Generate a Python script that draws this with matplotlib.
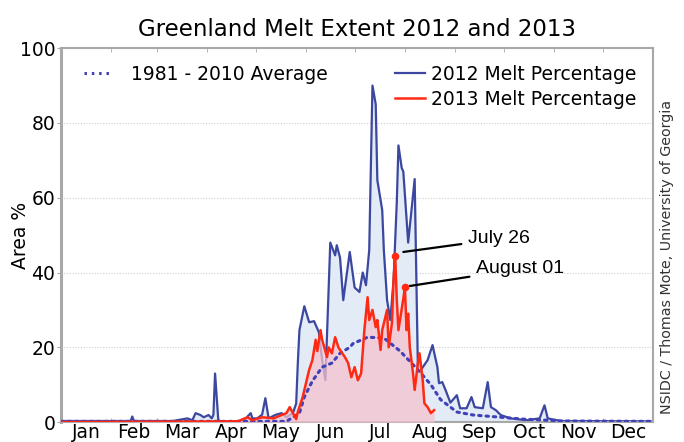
import numpy as np
import matplotlib.pyplot as plt
from matplotlib.lines import Line2D

# Month tick positions (day of year) and labels
month_starts = [1, 32, 60, 91, 121, 152, 182, 213, 244, 274, 305, 335, 366]
month_labels = ["Jan", "Feb", "Mar", "Apr", "May", "Jun",
                "Jul", "Aug", "Sep", "Oct", "Nov", "Dec"]

# 2012 melt percentage (day of year, % area)
days_2012 = [1, 20, 44, 45, 46, 70, 79, 82, 84, 87, 89, 92, 94, 95, 96, 98, 100,
             114, 116, 118, 119, 122, 125, 127, 129, 133, 137, 140, 144, 146, 147,
             148, 151, 154, 157, 160, 162, 164, 167, 170, 171, 173, 175, 179, 182,
             185, 187, 189, 191, 193, 195, 196, 199, 200, 202, 204, 206, 208, 209,
             211, 212, 215, 219, 221, 222, 227, 230, 233, 234, 236, 238, 241, 245,
             247, 251, 254, 256, 261, 264, 266, 269, 272, 278, 288, 296, 299, 301,
             309, 365]
melt_2012 = [0.3, 0.3, 0.3, 1.5, 0.3, 0.3, 1.0, 0.5, 2.4, 1.9, 1.3, 1.9, 1.0, 2.0, 13.0,
             0.5, 0.2, 0.2, 1.5, 2.4, 1.0, 1.0, 2.0, 6.4, 1.0, 1.9, 2.4, 1.3, 2.4, 5.0,
             15.8, 24.6, 31.0, 26.7, 27.0, 24.0, 16.6, 11.2, 48.0, 44.6, 47.3, 44.0,
             32.6, 45.5, 36.0, 34.8, 40.0, 36.6, 46.0, 90.0, 85.0, 64.7, 56.7, 46.0,
             32.6, 27.3, 38.0, 59.0, 74.0, 68.0, 67.0, 48.0, 65.0, 13.9, 13.4, 16.6,
             20.6, 14.7, 10.4, 10.7, 8.6, 5.2, 7.2, 3.7, 3.7, 6.7, 4.0, 3.7, 10.7, 4.0,
             3.2, 1.9, 1.0, 0.5, 1.0, 4.5, 1.0, 0.3, 0.2]

# 2013 melt percentage
days_2013 = [1, 110, 116, 119, 125, 132, 137, 140, 142, 144, 146, 147, 150, 154,
             156, 158, 159, 161, 162, 165, 166, 168, 170, 172, 173, 176, 178, 180,
             182, 184, 186, 188, 190, 191, 193, 195, 196, 198, 199, 202, 203, 205,
             206, 207, 208, 209, 212, 213, 214, 215, 216, 218, 219, 221, 222, 224,
             225, 227, 229, 231]
melt_2013 = [0.0, 0.2, 1.3, 0.5, 1.3, 1.0, 1.9, 2.4, 4.0, 2.4, 0.8, 2.7, 6.7, 14.0,
             16.6, 22.0, 19.0, 24.6, 22.0, 17.4, 20.0, 18.4, 22.7, 20.0, 19.3, 17.4,
             15.8, 12.0, 14.7, 11.2, 13.0, 24.6, 33.4, 27.3, 30.0, 25.4, 27.3, 19.3,
             24.6, 30.0, 20.0, 26.5, 38.0, 44.5, 32.6, 24.6, 33.0, 36.0, 24.6, 29.0,
             20.0, 13.0, 8.6, 15.8, 18.4, 11.0, 5.0, 4.0, 2.4, 3.2]

# 1981-2010 average
days_avg = [1, 140, 148, 151, 156, 162, 168, 173, 179, 181, 190, 200, 210, 221,
            229, 235, 245, 255, 272, 286, 310, 365]
melt_avg = [0.2, 0.2, 2.4, 6.7, 11.0, 14.7, 15.8, 18.4, 20.0, 21.0, 22.7, 22.5,
            19.0, 14.0, 10.0, 6.0, 2.7, 1.9, 1.3, 0.8, 0.3, 0.2]

BLUE = "#3c48a0"
RED = "#ff2a14"
AVG = "#4040b8"
GREY = "#a8a8a8"
DOTS = (0, (0.8, 1.6))

fig = plt.figure(figsize=(6.84, 4.42), dpi=100)
ax = fig.add_axes([0.089, 0.045, 0.866, 0.846])

# 2012 fill + line
ax.fill_between(days_2012, melt_2012, color="#e2ebf6", zorder=1)
ax.plot(days_2012, melt_2012, color=BLUE, lw=1.6, zorder=2)

# 2013 fill (over the 2012 line) + line
ax.fill_between(days_2013, melt_2013, color="#f6c2d0", alpha=0.75, lw=0, zorder=3)
ax.plot(days_avg, melt_avg, color=AVG, lw=2.2, ls=DOTS,
        dash_capstyle="round", zorder=4)
ax.plot(days_2013, melt_2013, color=RED, lw=1.8, zorder=5)

# highlighted days
hl_days = [207, 213]
hl_vals = [melt_2013[days_2013.index(d)] for d in hl_days]
ax.plot(hl_days, hl_vals, "o", color=RED, ms=4.5, zorder=6)

ax.annotate("July 26", xy=(212, 45.5), xytext=(252, 49),
            fontsize=14, family="Liberation Sans", va="center",
            arrowprops=dict(arrowstyle="-", color="black", lw=1.6,
                            shrinkA=3, shrinkB=0))
ax.annotate("August 01", xy=(216, 36.4), xytext=(257, 41),
            fontsize=14, family="Liberation Sans", va="center",
            arrowprops=dict(arrowstyle="-", color="black", lw=1.6,
                            shrinkA=3, shrinkB=0))

ax.set_xlim(1, 366)
ax.set_ylim(0, 100)

mids = [(month_starts[i] + month_starts[i + 1]) / 2 for i in range(12)]
ax.set_xticks(mids)
ax.set_xticklabels(month_labels, fontsize=13.5)
ax.set_xticks(month_starts, minor=True)
ax.tick_params(axis="x", which="major", length=0, pad=1)
ax.tick_params(axis="x", which="minor", direction="in", length=3,
               color=GREY, top=True)

ax.set_yticks([0, 20, 40, 60, 80, 100])
ax.set_yticklabels(["0", "20", "40", "60", "80", "100"], fontsize=13.5)
ax.tick_params(axis="y", direction="out", length=3, color=GREY, pad=1)
ax.yaxis.grid(True, linestyle=(0, (1, 1.5)), color="#d0d0d0", lw=0.8)
ax.set_axisbelow(True)

for s in ax.spines.values():
    s.set_color(GREY)
    s.set_linewidth(1.5)
ax.spines["left"].set_linewidth(2.2)

ax.set_ylabel("Area %", fontsize=13.5)
ax.yaxis.set_label_coords(-0.052, 0.5)
ax.set_title("Greenland Melt Extent 2012 and 2013", fontsize=16.5, pad=9)

# legends
h_avg = Line2D([], [], color=AVG, lw=2.2, ls=DOTS)
h12 = Line2D([], [], color=BLUE, lw=1.6)
h13 = Line2D([], [], color=RED, lw=1.8)
leg1 = ax.legend([h_avg], ["1981 - 2010 Average"], loc="upper left",
                 frameon=False, fontsize=13.5, handlelength=1.35,
                 handletextpad=1.2, bbox_to_anchor=(0.01, 1.0))
ax.add_artist(leg1)
ax.legend([h12, h13], ["2012 Melt Percentage", "2013 Melt Percentage"],
          loc="upper right", frameon=False, fontsize=13.5, handlelength=1.6,
          labelspacing=0.3, handletextpad=0.3, bbox_to_anchor=(1.0, 1.0))

fig.text(0.975, 0.418, "NSIDC / Thomas Mote, University of Georgia",
         rotation=90, fontsize=10.3, family="DejaVu Sans",
         ha="center", va="center", color="#333333")

fig.savefig("out.png", dpi=100)
